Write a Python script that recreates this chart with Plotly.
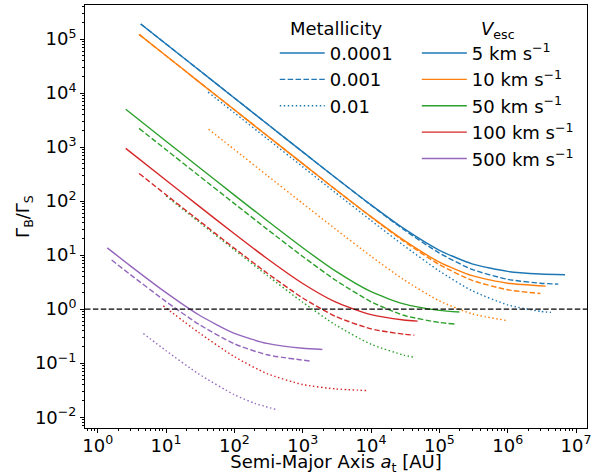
import plotly.graph_objects as go

# ---- data (x: semi-major axis [AU], y: Gamma_B/Gamma_S) ----
velocities = ["5", "10", "50", "100", "500"]
metallicities = ["0.0001", "0.001", "0.01"]
colors = ["#1f77b4", "#ff7f0e", "#2ca02c", "#d62728", "#9467bd"]

# 5 km/s
x_v5_z1 = [4.26, 10, 30, 100, 300, 1e3, 3e3, 1e4, 3e4, 1e5, 3e5, 1e6, 3e6, 6.9e6]
y_v5_z1 = [1.9e5, 8.1e4, 2.7e4, 8100, 2700, 814, 274, 85.2, 31.2, 12.3, 6.9, 5.0, 4.47, 4.32]
x_v5_z2 = [4.26, 10, 30, 100, 300, 1e3, 3e3, 1e4, 3e4, 1e5, 3e5, 1e6, 3e6, 5.5e6]
y_v5_z2 = [1.9e5, 8.1e4, 2.7e4, 8100, 2700, 813, 273, 83.8, 29.8, 10.9, 5.45, 3.56, 3.02, 2.9]
x_v5_z3 = [41.2, 100, 300, 1e3, 3e3, 1e4, 3e4, 1e5, 3e5, 1e6, 3e6, 4.3e6]
y_v5_z3 = [1.04e4, 4300, 1434, 431, 144, 43.8, 15.1, 5.07, 2.2, 1.2, 0.91, 0.87]
# 10 km/s
x_v10_z1 = [4.03, 10, 30, 100, 300, 1e3, 3e3, 1e4, 3e4, 1e5, 3e5, 1e6, 3.6e6]
y_v10_z1 = [1.22e5, 4.9e4, 1.63e4, 4900, 1636, 493, 166, 51.5, 18.9, 7.43, 4.16, 3.02, 2.67]
x_v10_z2 = [4.03, 10, 30, 100, 300, 1e3, 3e3, 1e4, 3e4, 1e5, 3e5, 1e6, 3e6]
y_v10_z2 = [1.22e5, 4.9e4, 1.63e4, 4900, 1635, 492, 165, 50.8, 18.1, 6.69, 3.42, 2.28, 1.95]
x_v10_z3 = [42, 100, 300, 1e3, 3e3, 1e4, 3e4, 1e5, 3e5, 1e6]
y_v10_z3 = [2143, 900, 300, 90.5, 30.5, 9.52, 3.52, 1.42, 0.82, 0.61]
# 50 km/s
x_v50_z1 = [2.57, 10, 30, 100, 300, 1e3, 3e3, 1e4, 3e4, 1e5, 1.96e5]
y_v50_z1 = [5000, 1286, 429, 129, 43.7, 13.7, 5.1, 2.1, 1.25, 0.95, 0.886]
x_v50_z2 = [4.03, 10, 30, 100, 300, 1e3, 3e3, 1e4, 3e4, 1e5, 1.66e5]
y_v50_z2 = [2221, 895, 298, 90, 30.3, 9.43, 3.46, 1.37, 0.77, 0.566, 0.53]
x_v50_z3 = [10, 30, 100, 300, 1e3, 3e3, 1e4, 3e4, 4.1e4]
y_v50_z3 = [124, 41.4, 12.5, 4.23, 1.34, 0.513, 0.224, 0.141, 0.13]
# 100 km/s
x_v100_z1 = [2.57, 10, 30, 100, 300, 1e3, 3e3, 1e4, 3e4, 4.8e4]
y_v100_z1 = [946, 244, 81.5, 24.9, 8.65, 2.98, 1.36, 0.79, 0.63, 0.60]
x_v100_z2 = [4.03, 10, 30, 100, 300, 1e3, 3e3, 1e4, 3e4, 4.3e4]
y_v100_z2 = [325, 131, 44, 13.4, 4.67, 1.61, 0.737, 0.431, 0.344, 0.33]
x_v100_z3 = [9.1, 30, 100, 300, 1e3, 3e3, 8900]
y_v100_z3 = [1.15, 0.37, 0.132, 0.064, 0.0402, 0.0334, 0.0311]
# 500 km/s
x_v500_z1 = [1.38, 3, 10, 30, 100, 300, 1e3, 1940]
y_v500_z1 = [13.6, 6.34, 2.02, 0.787, 0.355, 0.232, 0.1885, 0.1795]
x_v500_z2 = [1.6, 3, 10, 30, 100, 300, 1260]
y_v500_z2 = [8.1, 4.37, 1.38, 0.527, 0.228, 0.143, 0.110]
x_v500_z3 = [4.65, 10, 30, 100, 200, 416]
y_v500_z3 = [0.354, 0.17, 0.0633, 0.026, 0.018, 0.0138]

series = [
    [(x_v5_z1, y_v5_z1), (x_v5_z2, y_v5_z2), (x_v5_z3, y_v5_z3)],
    [(x_v10_z1, y_v10_z1), (x_v10_z2, y_v10_z2), (x_v10_z3, y_v10_z3)],
    [(x_v50_z1, y_v50_z1), (x_v50_z2, y_v50_z2), (x_v50_z3, y_v50_z3)],
    [(x_v100_z1, y_v100_z1), (x_v100_z2, y_v100_z2), (x_v100_z3, y_v100_z3)],
    [(x_v500_z1, y_v500_z1), (x_v500_z2, y_v500_z2), (x_v500_z3, y_v500_z3)],
]

x_exponents = [0, 1, 2, 3, 4, 5, 6, 7]
y_exponents = [-2, -1, 0, 1, 2, 3, 4, 5]
x_range_log = [-0.186, 7.16]
y_range_log = [-2.2, 5.63]
ref_level = 1.0

dashes = ["solid", "5.5px,2.4px", "1.5px,2.5px"]
LW = 1.4
FONT = "DejaVu Sans"
FS = 18


def sup(e):
    return "10<sup>" + (str(e) if e >= 0 else "−" + str(-e)) + "</sup>"


def minor_vals(lo, hi):
    out = []
    for e in range(lo, hi + 1):
        for m in range(2, 10):
            out.append(m * 10.0 ** e)
    return out


fig = go.Figure()

for vi, vel in enumerate(series):
    for zi, (xs, ys) in enumerate(vel):
        fig.add_trace(go.Scatter(
            x=xs, y=ys, mode="lines",
            line=dict(color=colors[vi], width=LW, dash=dashes[zi], shape="spline", smoothing=0.6),
            showlegend=False, hoverinfo="skip"))

# reference line at y = 1
fig.add_trace(go.Scatter(
    x=[10 ** x_range_log[0], 10 ** x_range_log[1]], y=[ref_level, ref_level], mode="lines",
    line=dict(color="black", width=1.4, dash="5.5px,2.4px"), showlegend=False, hoverinfo="skip"))

# legend: metallicity
for zi, z in enumerate(metallicities):
    fig.add_trace(go.Scatter(
        x=[None], y=[None], mode="lines", name=z, legend="legend", legendgroup="z" + z,
        line=dict(color=colors[0], width=LW, dash=dashes[zi])))
# legend: escape velocity
for vi, v in enumerate(velocities):
    fig.add_trace(go.Scatter(
        x=[None], y=[None], mode="lines", name=v + " km s<sup>−1</sup>", legend="legend2",
        legendgroup="v" + v, line=dict(color=colors[vi], width=LW)))

axis_common = dict(
    type="log", showline=True, linecolor="black", linewidth=1, mirror=True,
    ticks="outside", ticklen=4, tickwidth=1, tickcolor="black",
    showgrid=False, zeroline=False, automargin=False,
    tickfont=dict(family=FONT, size=FS, color="black"),
)

fig.update_layout(
    width=601, height=475,
    margin=dict(l=85, r=14, t=5, b=47),
    paper_bgcolor="white", plot_bgcolor="white",
    font=dict(family=FONT, size=FS, color="black"),
    xaxis=dict(axis_common, range=x_range_log,
               tickmode="array", tickvals=[10.0 ** e for e in x_exponents],
               ticktext=[sup(e) for e in x_exponents], ticklabelstandoff=-3,
               minor=dict(ticks="outside", ticklen=2, tickwidth=0.8, tickcolor="black",
                          tickmode="array", tickvals=minor_vals(-1, 7), showgrid=False),
               title=dict(text="Semi-Major Axis <i>a</i><sub>t</sub> [AU]", standoff=7,
                          font=dict(family=FONT, size=FS))),
    yaxis=dict(axis_common, range=y_range_log,
               tickmode="array", tickvals=[10.0 ** e for e in y_exponents],
               ticktext=[sup(e) for e in y_exponents],
               minor=dict(ticks="outside", ticklen=2, tickwidth=0.8, tickcolor="black",
                          tickmode="array", tickvals=minor_vals(-3, 5), showgrid=False),
               title=dict(text="Γ<sub>B</sub>/Γ<sub>S</sub>", standoff=0,
                          font=dict(family=FONT, size=FS))),
    legend=dict(x=0.378, y=0.985, xanchor="left", yanchor="top", bgcolor="rgba(0,0,0,0)",
                title=dict(text="Metallicity", side="top center", font=dict(family=FONT, size=FS)),
                font=dict(family=FONT, size=FS), traceorder="grouped", tracegroupgap=0,
                itemwidth=45),
    legend2=dict(x=0.661, y=0.985, xanchor="left", yanchor="top", bgcolor="rgba(0,0,0,0)",
                 title=dict(text="<i>V</i><sub>esc</sub>", side="top center",
                            font=dict(family=FONT, size=FS)),
                 font=dict(family=FONT, size=FS), traceorder="grouped", tracegroupgap=0,
                 itemwidth=45),
)

fig.write_html("out.html", config={"displayModeBar": False},
               post_script="document.body.style.margin='0';document.body.style.overflow='hidden';")
